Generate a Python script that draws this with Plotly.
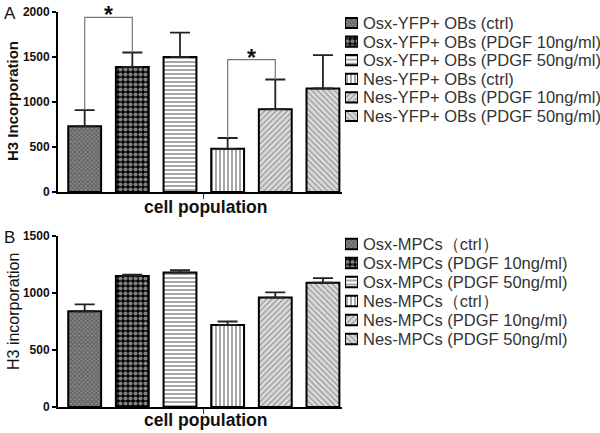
import plotly.graph_objects as go

W, H = 600, 433

# panel A
a_labels = ["Osx-YFP+ OBs (ctrl)", "Osx-YFP+ OBs (PDGF 10ng/ml)", "Osx-YFP+ OBs (PDGF 50ng/ml)",
            "Nes-YFP+ OBs (ctrl)", "Nes-YFP+ OBs (PDGF 10ng/ml)", "Nes-YFP+ OBs (PDGF 50ng/ml)"]
a_values = [730, 1390, 1500, 480, 920, 1150]
a_errors = [180, 160, 270, 120, 330, 370]
a_sig_pairs = [(0, 1), (3, 4)]
a_sig_heights = [1940, 1470]
a_ticks = [0, 500, 1000, 1500, 2000]

# panel B
b_labels = ["Osx-MPCs（ctrl）", "Osx-MPCs (PDGF 10ng/ml)", "Osx-MPCs (PDGF 50ng/ml)",
            "Nes-MPCs（ctrl）", "Nes-MPCs (PDGF 10ng/ml)", "Nes-MPCs (PDGF 50ng/ml)"]
b_values = [840, 1150, 1180, 720, 960, 1090]
b_errors = [60, 10, 20, 30, 45, 40]
b_ticks = [0, 500, 1000, 1500]

positions = [0, 1, 2, 3, 4, 5]

patterns = [
    dict(shape="x", fgcolor="#2a2a2a", bgcolor="#8a8a8a", size=3, solidity=0.5),
    dict(shape=".", fgcolor="white", bgcolor="black", size=5, solidity=0.55),
    dict(shape="-", fgcolor="black", bgcolor="white", size=4, solidity=0.35),
    dict(shape="|", fgcolor="black", bgcolor="white", size=4, solidity=0.35),
    dict(shape="/", fgcolor="#555555", bgcolor="#dddddd", size=4, solidity=0.35),
    dict(shape="\\", fgcolor="#555555", bgcolor="#dddddd", size=4, solidity=0.35),
]

FONT = "Liberation Sans, Arial, sans-serif"


def px_x(p):
    return p / W


def px_y(p):
    return 1 - p / H


fig = go.Figure()

for labels, values, errors, xa, ya in [
    (a_labels, a_values, a_errors, "x", "y"),
    (b_labels, b_values, b_errors, "x2", "y2"),
]:
    for i in range(len(values)):
        fig.add_trace(go.Bar(
            x=[positions[i]], y=[values[i]], name=labels[i], width=0.69,
            marker=dict(color="white", line=dict(color="black", width=2), pattern=patterns[i]),
            error_y=dict(type="data", array=[errors[i]], arrayminus=[0], symmetric=False,
                         color="#222222", thickness=1.8, width=10),
            xaxis=xa, yaxis=ya, showlegend=False,
        ))

# legend swatches drawn as small horizontal bars on hidden axes
for labels, xa, ya in [(a_labels, "x3", "y3"), (b_labels, "x4", "y4")]:
    for i in range(len(labels)):
        fig.add_trace(go.Bar(
            x=[1], y=[i], orientation="h", width=0.55,
            marker=dict(color="white", line=dict(color="black", width=2), pattern=patterns[i]),
            xaxis=xa, yaxis=ya, showlegend=False, hoverinfo="skip",
        ))

# significance brackets, panel A
for (i, j), h in zip(a_sig_pairs, a_sig_heights):
    fig.add_trace(go.Scatter(
        x=[positions[i], positions[i], positions[j], positions[j]],
        y=[a_values[i] + a_errors[i], h, h, a_values[j] + a_errors[j]],
        mode="lines", line=dict(color="#777777", width=1.2),
        showlegend=False, hoverinfo="skip", xaxis="x", yaxis="y",
    ))
    fig.add_annotation(x=(positions[i] + positions[j]) / 2, y=h, xref="x", yref="y",
                       text="<b>*</b>", showarrow=False, yanchor="bottom", yshift=-13,
                       font=dict(size=23, color="#111111", family=FONT))

axis_common = dict(showline=True, linecolor="black", linewidth=2, zeroline=False,
                   showgrid=False, automargin=False, mirror=False)
hidden = dict(visible=False, showgrid=False, zeroline=False, automargin=False, fixedrange=True)

# legend rows (pixel centres of first row, row spacing)
a_leg_top, a_leg_step = 23, 18.6
b_leg_top, b_leg_step = 244, 19.0
n = len(a_labels)

fig.update_layout(
    width=W, height=H,
    margin=dict(l=0, r=0, t=0, b=0),
    paper_bgcolor="white", plot_bgcolor="white",
    barmode="overlay",
    font=dict(family=FONT, color="#222222"),
    xaxis=dict(domain=[px_x(58), px_x(342)], range=[-0.56, 5.4], tickvals=[2.5],
               showticklabels=False, ticks="outside", ticklen=5, tickwidth=1, tickcolor="#333",
               anchor="y", **axis_common),
    yaxis=dict(domain=[px_y(192), px_y(12)], range=[0, 2000], tickvals=a_ticks,
               ticks="outside", ticklen=4, tickwidth=2, tickcolor="black",
               tickfont=dict(size=12, weight="bold", color="#111111"), anchor="x", **axis_common),
    xaxis2=dict(domain=[px_x(58), px_x(342)], range=[-0.56, 5.4], tickvals=[2.5],
                showticklabels=False, ticks="outside", ticklen=5, tickwidth=1, tickcolor="#333",
                anchor="y2", **axis_common),
    yaxis2=dict(domain=[px_y(407), px_y(236)], range=[0, 1500], tickvals=b_ticks,
                ticks="outside", ticklen=4, tickwidth=2, tickcolor="black",
                tickfont=dict(size=12, weight="bold", color="#111111"), anchor="x2", **axis_common),
    xaxis3=dict(domain=[px_x(345), px_x(358)], range=[0, 1], anchor="y3", **hidden),
    yaxis3=dict(domain=[px_y(a_leg_top + (n - 0.5) * a_leg_step), px_y(a_leg_top - 0.5 * a_leg_step)],
                range=[n - 0.5, -0.5], anchor="x3", **hidden),
    xaxis4=dict(domain=[px_x(345), px_x(358)], range=[0, 1], anchor="y4", **hidden),
    yaxis4=dict(domain=[px_y(b_leg_top + (n - 0.5) * b_leg_step), px_y(b_leg_top - 0.5 * b_leg_step)],
                range=[n - 0.5, -0.5], anchor="x4", **hidden),
)

# legend texts
for labels, top, step in [(a_labels, a_leg_top, a_leg_step), (b_labels, b_leg_top, b_leg_step)]:
    for i, lab in enumerate(labels):
        fig.add_annotation(x=px_x(361), y=px_y(top + i * step), xref="paper", yref="paper",
                           text=lab, showarrow=False, xanchor="left", yanchor="middle",
                           font=dict(size=16.5, color="#333333", family=FONT))

# panel letters and axis titles
texts = [
    ("A", 10, 14, 17, "normal", 0),
    ("B", 9, 237, 17, "normal", 0),
    ("H3 Incorporation", 13, 101, 15, "bold", -90),
    ("H3 incorporation", 13, 312, 16, "normal", -90),
    ("cell population", 205, 207, 17.5, "bold", 0),
    ("cell population", 205, 420, 17.5, "bold", 0),
]
for t, x, y, s, wgt, ang in texts:
    fig.add_annotation(x=px_x(x), y=px_y(y), xref="paper", yref="paper", text=t,
                       showarrow=False, textangle=ang, xanchor="center", yanchor="middle",
                       font=dict(size=s, weight=wgt, color="#111111", family=FONT))

fig.write_html("out.html", config={"displayModeBar": False},
               post_script="document.body.style.margin='0';")
